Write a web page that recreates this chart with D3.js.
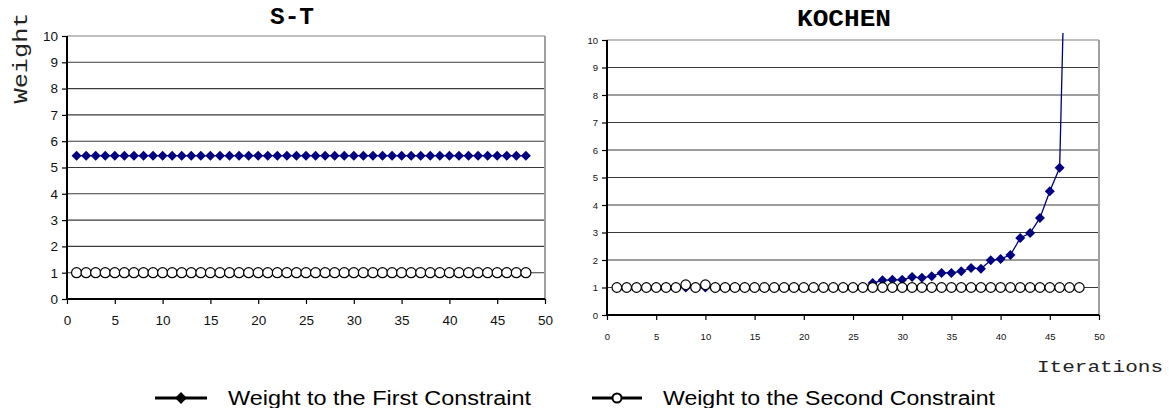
<!DOCTYPE html>
<html>
<head>
<meta charset="utf-8">
<script src="https://cdn.jsdelivr.net/npm/d3@7"></script>
<style>
  html, body { margin: 0; padding: 0; background: #fff; }
  svg { display: block; }
</style>
</head>
<body>
<svg id="chart" width="1169" height="408"></svg>
<script>
// Iterations 1..48
const iterations = d3.range(1, 49);

// S-T panel: both weights stay constant
const stFirst = iterations.map(() => 5.45);
const stSecond = iterations.map(() => 1.0);

// KOCHEN panel: first weight grows sharply after ~27 iterations (47 is off scale)
const kochenFirst = [
  1.0, 1.0, 1.0, 1.0, 1.0, 1.0, 1.0, 1.0, 1.0, 1.0,
  1.0, 1.0, 1.0, 1.0, 1.0, 1.0, 1.0, 1.0, 1.0, 1.0,
  1.0, 1.0, 1.0, 1.0, 1.0, 1.0, 1.16, 1.26, 1.28, 1.28,
  1.38, 1.35, 1.41, 1.53, 1.53, 1.59, 1.71, 1.68, 1.99, 2.04,
  2.18, 2.80, 2.98, 3.53, 4.50, 5.35, 20.0
];
const kochenSecond = [
  1.0, 1.0, 1.0, 1.0, 1.0, 1.0, 1.0, 1.1, 1.0, 1.1,
  1.0, 1.0, 1.0, 1.0, 1.0, 1.0, 1.0, 1.0, 1.0, 1.0,
  1.0, 1.0, 1.0, 1.0, 1.0, 1.0, 1.0, 1.0, 1.0, 1.0,
  1.0, 1.0, 1.0, 1.0, 1.0, 1.0, 1.0, 1.0, 1.0, 1.0,
  1.0, 1.0, 1.0, 1.0, 1.0, 1.0, 1.0, 1.0
];

const xTicks = [0, 5, 10, 15, 20, 25, 30, 35, 40, 45, 50];
const yTicks = [0, 1, 2, 3, 4, 5, 6, 7, 8, 9, 10];

const panelTitles = ["S-T", "KOCHEN"];
const yAxisTitle = "Weight";
const xAxisTitle = "Iterations";
const legendLabels = ["Weight to the First Constraint", "Weight to the Second Constraint"];

const navy = "#000080";
const svg = d3.select("#chart");

const panels = [
  {
    title: panelTitles[0], first: stFirst, second: stSecond,
    x0: 67, x1: 545, yTop: 36, yBot: 299,
    tickFont: 13.5, r: 5, dia: 5, titleX: 292, titleY: 24, titleSize: 23, titleLen: 44
  },
  {
    title: panelTitles[1], first: kochenFirst, second: kochenSecond,
    x0: 607, x1: 1099, yTop: 40, yBot: 315,
    tickFont: 9.5, r: 4.8, dia: 5, titleX: 844, titleY: 26, titleSize: 24, titleLen: 94
  }
];

panels.forEach((p, i) => {
  const x = d3.scaleLinear().domain([0, 50]).range([p.x0, p.x1]);
  const y = d3.scaleLinear().domain([0, 10]).range([p.yBot, p.yTop]);
  const g = svg.append("g");

  // horizontal gridlines
  g.selectAll("line.grid").data(yTicks.filter(t => t > 0 && t < 10)).join("line")
    .attr("x1", p.x0).attr("x2", p.x1)
    .attr("y1", d => y(d)).attr("y2", d => y(d))
    .attr("stroke", "#3a3a3a").attr("stroke-width", 1.1);

  // plot area frame (top and right in grey)
  g.append("line").attr("x1", p.x0).attr("x2", p.x1).attr("y1", y(10)).attr("y2", y(10))
    .attr("stroke", "#a8a8a8").attr("stroke-width", 1.5);
  g.append("line").attr("x1", p.x1).attr("x2", p.x1).attr("y1", y(10)).attr("y2", y(0))
    .attr("stroke", "#a0a0a0").attr("stroke-width", 2);

  // axes
  const yAxis = d3.axisLeft(y).tickValues(yTicks).tickSize(5).tickPadding(4);
  const ya = g.append("g").attr("transform", `translate(${p.x0},0)`).call(yAxis);
  const xAxis = d3.axisBottom(x).tickValues(xTicks).tickSize(5).tickPadding(i === 0 ? 11 : 13);
  const xa = g.append("g").attr("transform", `translate(0,${p.yBot})`).call(xAxis);

  [ya, xa].forEach(a => {
    a.select(".domain").remove();
    a.selectAll(".tick line").attr("stroke", "#000").attr("stroke-width", 1.2);
    a.selectAll(".tick text")
      .attr("font-family", "'Liberation Sans', Arial, sans-serif")
      .attr("font-size", p.tickFont).attr("fill", "#111");
  });
  g.append("line").attr("x1", p.x0).attr("x2", p.x0).attr("y1", y(10)).attr("y2", y(0) + 1)
    .attr("stroke", "#000").attr("stroke-width", 2);
  g.append("line").attr("x1", p.x0 - 1).attr("x2", p.x1).attr("y1", y(0)).attr("y2", y(0))
    .attr("stroke", "#000").attr("stroke-width", 2);

  // clip for series that leave the scale
  const clipId = "clip" + i;
  svg.append("clipPath").attr("id", clipId).append("rect")
    .attr("x", p.x0).attr("y", y(10) - 7).attr("width", p.x1 - p.x0).attr("height", p.yBot - p.yTop + 7);

  const line = d3.line().x((d, j) => x(j + 1)).y(d => y(d));
  const series = g.append("g").attr("clip-path", `url(#${clipId})`);

  // first constraint: navy line with diamonds
  series.append("path").datum(p.first).attr("d", line)
    .attr("fill", "none").attr("stroke", navy).attr("stroke-width", 1.3);
  series.selectAll("path.dia").data(p.first.filter(v => v <= 10)).join("path")
    .attr("class", "dia")
    .attr("d", d3.symbol().type(d3.symbolSquare).size(2 * p.dia * p.dia))
    .attr("transform", (d, j) => `translate(${x(j + 1)},${y(d)}) rotate(45)`)
    .attr("fill", navy);

  // second constraint: black line with open circles
  series.append("path").datum(p.second).attr("d", line)
    .attr("fill", "none").attr("stroke", "#000").attr("stroke-width", 1);
  series.selectAll("circle").data(p.second).join("circle")
    .attr("cx", (d, j) => x(j + 1)).attr("cy", d => y(d)).attr("r", p.r)
    .attr("fill", "#fff").attr("stroke", "#000").attr("stroke-width", 1.2);

  // panel title
  svg.append("text").attr("x", p.titleX).attr("y", p.titleY)
    .attr("text-anchor", "middle")
    .attr("font-family", "'Liberation Mono', 'Courier New', monospace")
    .attr("font-weight", "bold").attr("font-size", p.titleSize)
    .attr("textLength", p.titleLen).attr("lengthAdjust", "spacingAndGlyphs")
    .text(p.title);
});

// axis titles
svg.append("text")
  .attr("transform", "translate(27,58) rotate(-90)")
  .attr("text-anchor", "middle")
  .attr("font-family", "'Liberation Mono', 'Courier New', monospace")
  .attr("font-size", 21)
  .attr("textLength", 91).attr("lengthAdjust", "spacingAndGlyphs")
  .attr("fill", "#222")
  .text(yAxisTitle);

svg.append("text")
  .attr("x", 1037).attr("y", 372)
  .attr("font-family", "'Liberation Mono', 'Courier New', monospace")
  .attr("font-size", 16)
  .attr("textLength", 126).attr("lengthAdjust", "spacingAndGlyphs")
  .attr("fill", "#222")
  .text(xAxisTitle);

// legend
const legendY = 398;
const legend = [
  { x1: 155, x2: 207, textX: 228, textLen: 303, label: legendLabels[0], kind: "diamond" },
  { x1: 592, x2: 642, textX: 663, textLen: 332, label: legendLabels[1], kind: "circle" }
];
legend.forEach(l => {
  const lg = svg.append("g");
  lg.append("line").attr("x1", l.x1).attr("x2", l.x2).attr("y1", legendY).attr("y2", legendY)
    .attr("stroke", "#000").attr("stroke-width", 3);
  const cx = (l.x1 + l.x2) / 2;
  if (l.kind === "diamond") {
    lg.append("path").attr("d", d3.symbol().type(d3.symbolSquare).size(70))
      .attr("transform", `translate(${cx},${legendY}) rotate(45)`).attr("fill", "#000");
  } else {
    lg.append("circle").attr("cx", cx).attr("cy", legendY).attr("r", 4.5)
      .attr("fill", "#fff").attr("stroke", "#000").attr("stroke-width", 2);
  }
  lg.append("text").attr("x", l.textX).attr("y", legendY + 7)
    .attr("font-family", "'Liberation Sans', Arial, sans-serif")
    .attr("font-size", 20)
    .attr("textLength", l.textLen).attr("lengthAdjust", "spacingAndGlyphs")
    .attr("fill", "#000")
    .text(l.label);
});
</script>
</body>
</html>
